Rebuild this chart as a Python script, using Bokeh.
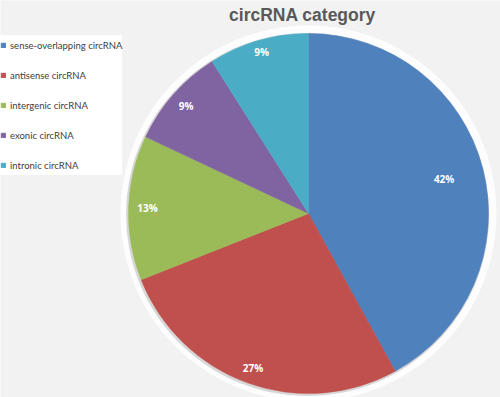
import math
from bokeh.plotting import figure
from bokeh.models import Range1d, ColumnDataSource, Legend, LegendItem
from bokeh.core.properties import value
from bokeh.embed import file_html
from bokeh.resources import INLINE

# ---- data ----
categories = ["sense-overlapping circRNA", "antisense circRNA", "intergenic circRNA",
              "exonic circRNA", "intronic circRNA"]
percents = [42, 27, 13, 9, 9]
colors = ["#4F81BD", "#C0504D", "#9BBB59", "#8064A2", "#4BACC6"]
title_text = "circRNA category"

# ---- layout (styling) ----
W, H = 500, 397
CX, CY, R = 308, 184, 180
label_r = [140, 164, 161, 163, 168]

total = float(sum(percents))
starts, ends, lx, ly, labels = [], [], [], [], []
cum = 0.0
for i, v in enumerate(percents):
    a0 = math.pi / 2 - 2 * math.pi * cum / total
    cum += v
    a1 = math.pi / 2 - 2 * math.pi * cum / total
    starts.append(a0)
    ends.append(a1)
    mid = (a0 + a1) / 2
    lx.append(CX + label_r[i] * math.cos(mid))
    ly.append(CY + label_r[i] * math.sin(mid))
    labels.append(f"{v}%")

p = figure(width=W, height=H, output_backend="svg", toolbar_location=None,
           x_range=Range1d(0, W), y_range=Range1d(0, H), min_border=0,
           background_fill_color="#f2f2f2", border_fill_color="#f2f2f2")
p.axis.visible = False
p.grid.visible = False
p.outline_line_color = None

# glow / shadow
p.circle(x=[CX], y=[CY], radius=R + 8, radius_units="screen", fill_color="white",
         fill_alpha=0.8, line_color=None)
p.circle(x=[CX - 1], y=[CY - 1], radius=R + 1.5, radius_units="screen",
         fill_color="#bdbdbd", fill_alpha=0.6, line_color=None)

items = []
for i in range(len(percents)):
    r = p.wedge(x=CX, y=CY, radius=R, radius_units="screen",
                start_angle=starts[i], end_angle=ends[i], direction="clock",
                fill_color=colors[i], line_color=colors[i], line_width=0.5)
    items.append(LegendItem(label=categories[i], renderers=[r]))

src = ColumnDataSource(dict(x=lx, y=ly, t=labels))
p.text(x="x", y="y", text="t", source=src, text_color="white",
       text_font=value("Open Sans"), text_font_style="bold", text_font_size="10px",
       text_align="center", text_baseline="middle")

p.text(x=[302], y=[383], text=[title_text], text_color="#595959",
       text_font=value("Liberation Sans"), text_font_style="bold",
       text_font_size="17.5px", text_align="center", text_baseline="alphabetic")

legend = Legend(items=items, location=(0, 222), orientation="vertical",
                glyph_width=6, glyph_height=6, label_height=20, spacing=10,
                padding=3, margin=0, label_standoff=4,
                label_text_font="Lato", label_text_font_size="9.5px",
                label_text_color="#404040", border_line_color=None,
                background_fill_color="white", background_fill_alpha=1.0)
p.add_layout(legend)

open("out.html", "w").write(file_html(p, INLINE))
